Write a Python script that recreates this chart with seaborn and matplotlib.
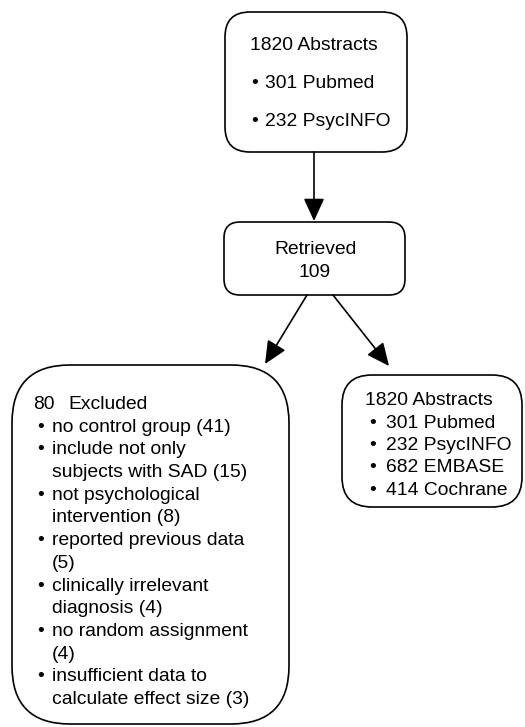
import matplotlib
matplotlib.use("Agg")
import matplotlib.pyplot as plt
from matplotlib.patches import FancyBboxPatch
import seaborn as sns

# box contents
search_title = "1820 Abstracts"
search_items = ["301 Pubmed", "232 PsycINFO"]
retrieved_lines = ["Retrieved", "109"]
excluded_count = "80"
excluded_label = "Excluded"
excluded_items = [
    ["no control group (41)"],
    ["include not only", "subjects with SAD (15)"],
    ["not psychological", "intervention (8)"],
    ["reported previous data", "(5)"],
    ["clinically irrelevant", "diagnosis (4)"],
    ["no random assignment", "(4)"],
    ["insufficient data to", "calculate effect size (3)"],
]
sources_title = "1820 Abstracts"
sources_items = ["301 Pubmed", "232 PsycINFO", "682 EMBASE", "414 Cochrane"]

sns.set_theme(style="white")
plt.rcParams['font.family'] = ['Liberation Sans', 'DejaVu Sans']

W, H = 525, 727
fig = plt.figure(figsize=(W / 100, H / 100), dpi=100)
ax = fig.add_axes([0, 0, 1, 1])
ax.set_xlim(0, W)
ax.set_ylim(H, 0)
ax.axis("off")

fs = 13.9
lw = 1.2


def box(x0, y0, x1, y1, r):
    p = FancyBboxPatch((x0, y0), x1 - x0, y1 - y0,
                       boxstyle=f"round,pad=0,rounding_size={r}",
                       fc="white", ec="black", lw=lw, zorder=2)
    ax.add_patch(p)


def arrow(x0, y0, x1, y1):
    ax.annotate("", xy=(x1, y1), xytext=(x0, y0),
                arrowprops=dict(arrowstyle="-|>,head_length=0.7,head_width=0.32",
                                color="black", lw=lw, mutation_scale=20,
                                shrinkA=0, shrinkB=0), zorder=3)


def txt(x, y, s, ha="left"):
    ax.text(x, y, s, ha=ha, va="baseline", fontsize=fs, color="black", zorder=4)


def bullet(x, y):
    ax.text(x, y, "\u2022", ha="left", va="baseline", fontsize=fs, color="black", zorder=4)


# top box: search
box(225, 12, 407, 152, 25)
txt(250, 49.5, search_title)
yb = 87.5
for item in search_items:
    bullet(251, yb)
    txt(265, yb, item)
    yb += 38.5

arrow(314, 152, 314, 221)

# retrieved
box(224, 222, 405, 295, 16)
txt(315, 254, retrieved_lines[0], ha="center")
txt(315, 277, retrieved_lines[1], ha="center")

arrow(307, 295, 265, 364)
arrow(333, 295, 389, 366)

# excluded box
box(12, 365, 289, 724, 58)
step = 22.7
yb = 409
txt(33, yb, excluded_count)
txt(68, yb, excluded_label)
for item in excluded_items:
    for k, line in enumerate(item):
        yb += step
        if k == 0:
            bullet(37, yb)
        txt(52, yb, line)

# sources box
box(342, 375, 522, 507, 30)
yb = 405
txt(365, yb, sources_title)
for item in sources_items:
    yb += 22.5
    bullet(369, yb)
    txt(386, yb, item)

fig.savefig("out.png", dpi=100)
